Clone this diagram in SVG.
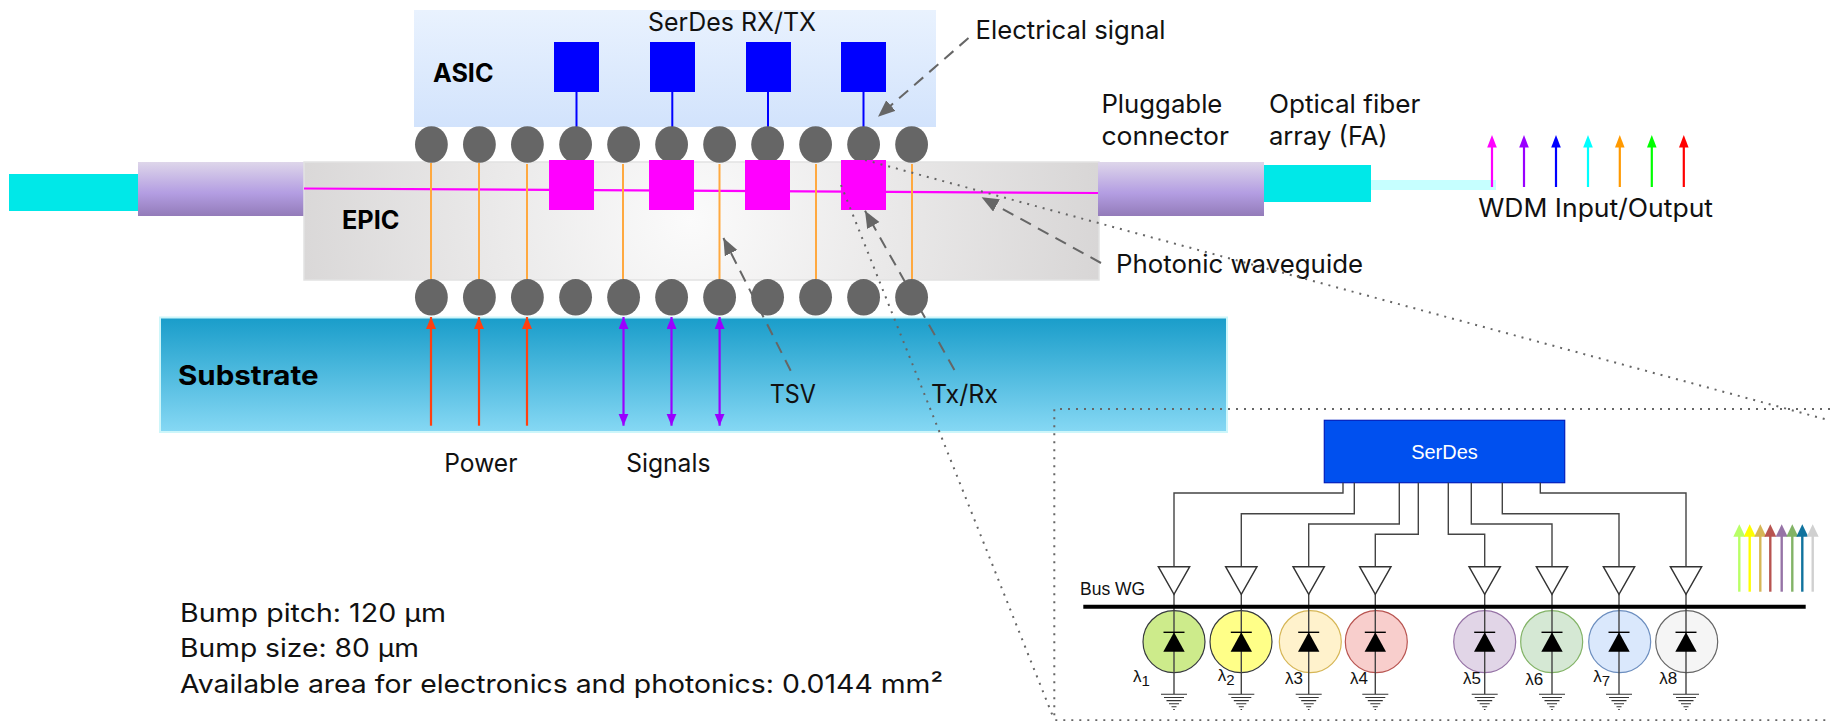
<svg xmlns="http://www.w3.org/2000/svg" xmlns:xlink="http://www.w3.org/1999/xlink" width="1830" height="721" viewBox="0 0 1830 721">
<style>
.t{font-family:"Inter","Liberation Sans",sans-serif;font-size:25.5px;fill:#111}
.b{font-family:"Inter","Liberation Sans",sans-serif;font-weight:700;fill:#000}
.h{font-family:"Liberation Sans",Arial,sans-serif;fill:#111}
.bump{fill:#666}
.tsv{stroke:#ffa940;stroke-width:2;fill:none}
.el{stroke:#0000ff;stroke-width:2;fill:none}
.sq{fill:#0000ff}
.mg{fill:#ff00ff}
.dash{stroke:#666;stroke-width:2;stroke-dasharray:12 8;fill:none;marker-end:url(#gh)}
.dot{stroke:#666;stroke-width:2;stroke-dasharray:2 6;fill:none}
.w{stroke:#444;stroke-width:1.4;fill:none}
.buf{fill:#fff;stroke:#333;stroke-width:1.4}
.lam{font-size:17px}
</style>
<defs>
<linearGradient id="asicG" x1="0" y1="0" x2="0" y2="1"><stop offset="0" stop-color="#e9f2fe"/><stop offset="1" stop-color="#d2e3fc"/></linearGradient>
<linearGradient id="connG" x1="0" y1="0" x2="0" y2="1"><stop offset="0" stop-color="#ded6ea"/><stop offset="0.58" stop-color="#b39de2"/><stop offset="1" stop-color="#937bb9"/></linearGradient>
<linearGradient id="subG" x1="0" y1="0" x2="0" y2="1"><stop offset="0" stop-color="#199dca"/><stop offset="1" stop-color="#86d8f4"/></linearGradient>
<radialGradient id="epicG" gradientUnits="userSpaceOnUse" cx="690" cy="220" r="410"><stop offset="0" stop-color="#fbfbfb"/><stop offset="1" stop-color="#d8d6d6"/></radialGradient>
<marker id="gh" markerUnits="userSpaceOnUse" markerWidth="20" markerHeight="16" refX="17" refY="7" orient="auto"><path d="M0 0L17 7L0 14Z" fill="#666"/></marker>
<marker id="pw" markerUnits="userSpaceOnUse" markerWidth="14" markerHeight="12" refX="12" refY="5" orient="auto"><path d="M0 0L12 5L0 10Z" fill="#ff4010"/></marker>
<marker id="sg" markerUnits="userSpaceOnUse" markerWidth="14" markerHeight="12" refX="12" refY="5" orient="auto-start-reverse"><path d="M0 0L12 5L0 10Z" fill="#9900ff"/></marker>
<g id="gnd" fill="none" stroke="#333" stroke-width="1.1"><path d="M-13 0H13M-10 3.2H10M-7.5 6.3H7.5M-5 9.4H5M-2.5 12.4H2.5M-.8 15.2H.8"/></g>
<g id="diode"><path d="M0-10.4L10.7 9H-10.7Z" fill="#000"/><path d="M-10.5-10.4H10.5" stroke="#000" stroke-width="1.4"/></g>
</defs>

<g id="left-fiber"><rect x="9" y="174" width="129" height="37" fill="#00e8e8"/></g>
<g id="left-connector"><rect x="138" y="162" width="166" height="54" fill="url(#connG)"/></g>
<g id="asic"><rect x="414" y="10" width="522" height="117" fill="url(#asicG)"/>
<text class="b" x="433" y="81.5" font-size="25" textLength="60.5" lengthAdjust="spacingAndGlyphs">ASIC</text>
<text class="t" x="648" y="31" textLength="168" lengthAdjust="spacingAndGlyphs">SerDes RX/TX</text></g>
<g id="epic"><rect x="304" y="162" width="795" height="118" fill="url(#epicG)" stroke="#e2e2e2" stroke-width="1.5"/>
<text class="b" x="342" y="228.5" font-size="25" textLength="57.5" lengthAdjust="spacingAndGlyphs">EPIC</text></g>
<g id="substrate"><rect x="160" y="317.5" width="1067" height="114.5" fill="url(#subG)" stroke="#cdf6fa" stroke-width="2"/>
<text class="b" x="178" y="385" font-size="27" textLength="140.5" lengthAdjust="spacingAndGlyphs">Substrate</text></g>
<g id="right-connector"><rect x="1098" y="162" width="166" height="54" fill="url(#connG)"/></g>
<g id="fiber-array"><rect x="1264" y="165" width="107" height="37" fill="#00e8e8"/><rect x="1371" y="180" width="125" height="10" fill="#c6ffff"/></g>

<g id="connectors">
<path d="M304 188.5L1098 193" stroke="#ff00ff" stroke-width="2.2" fill="none"/>
<path class="tsv" d="M431 163V279M479 163V279M527 164V279M623 164V279M719.5 164V279M816 164V279M912 164V279"/>
<path class="el" d="M576.5 92V160M672.3 92V160M768 92V160M863.5 92V160"/>
<path class="dash" d="M968.5 38L878 116.7"/>
<path class="dash" d="M790.7 370.7L723.4 238"/>
<path class="dash" d="M954.4 370L865 210.7"/>
<path class="dash" d="M1101 263L981.6 197.3"/>
</g>

<g id="top-bumps">
<ellipse class="bump" cx="431.4" cy="144.5" rx="16.4" ry="18.3"/><ellipse class="bump" cx="479.4" cy="144.5" rx="16.4" ry="18.3"/><ellipse class="bump" cx="527.4" cy="144.5" rx="16.4" ry="18.3"/><ellipse class="bump" cx="575.6" cy="144.5" rx="16.4" ry="18.3"/><ellipse class="bump" cx="623.6" cy="144.5" rx="16.4" ry="18.3"/><ellipse class="bump" cx="671.6" cy="144.5" rx="16.4" ry="18.3"/><ellipse class="bump" cx="719.6" cy="144.5" rx="16.4" ry="18.3"/><ellipse class="bump" cx="767.6" cy="144.5" rx="16.4" ry="18.3"/><ellipse class="bump" cx="815.6" cy="144.5" rx="16.4" ry="18.3"/><ellipse class="bump" cx="863.6" cy="144.5" rx="16.4" ry="18.3"/><ellipse class="bump" cx="911.6" cy="144.5" rx="16.4" ry="18.3"/>
</g>
<g id="bottom-bumps">
<ellipse class="bump" cx="431.4" cy="297.3" rx="16.4" ry="18.3"/><ellipse class="bump" cx="479.4" cy="297.3" rx="16.4" ry="18.3"/><ellipse class="bump" cx="527.4" cy="297.3" rx="16.4" ry="18.3"/><ellipse class="bump" cx="575.6" cy="297.3" rx="16.4" ry="18.3"/><ellipse class="bump" cx="623.6" cy="297.3" rx="16.4" ry="18.3"/><ellipse class="bump" cx="671.6" cy="297.3" rx="16.4" ry="18.3"/><ellipse class="bump" cx="719.6" cy="297.3" rx="16.4" ry="18.3"/><ellipse class="bump" cx="767.6" cy="297.3" rx="16.4" ry="18.3"/><ellipse class="bump" cx="815.6" cy="297.3" rx="16.4" ry="18.3"/><ellipse class="bump" cx="863.6" cy="297.3" rx="16.4" ry="18.3"/><ellipse class="bump" cx="911.6" cy="297.3" rx="16.4" ry="18.3"/>
</g>
<g id="serdes-pads"><rect class="sq" x="554" y="42" width="45" height="50"/><rect class="sq" x="650" y="42" width="45" height="50"/><rect class="sq" x="746" y="42" width="45" height="50"/><rect class="sq" x="841" y="42" width="45" height="50"/></g>
<g id="txrx-pads"><rect class="mg" x="549" y="160" width="45" height="50"/><rect class="mg" x="649" y="160" width="45" height="50"/><rect class="mg" x="745" y="160" width="45" height="50"/><rect class="mg" x="841" y="160" width="45" height="50"/></g>

<g id="power-arrows" stroke="#ff4010" stroke-width="2.2" fill="none"><path d="M431 425.7V317" marker-end="url(#pw)"/><path d="M479 425.7V317" marker-end="url(#pw)"/><path d="M527 425.7V317" marker-end="url(#pw)"/></g>
<g id="signal-arrows" stroke="#9900ff" stroke-width="2.2" fill="none"><path d="M623.5 425.7V317" marker-start="url(#sg)" marker-end="url(#sg)"/><path d="M671.5 425.7V317" marker-start="url(#sg)" marker-end="url(#sg)"/><path d="M719.6 425.7V317" marker-start="url(#sg)" marker-end="url(#sg)"/></g>

<g id="wdm-arrows" stroke-width="2.2">
<g stroke="#ff00ff" fill="#ff00ff"><path d="M1492 187V145"/><path stroke="none" d="M1492 135l4.8 12.5h-9.6Z"/></g>
<g stroke="#9900ff" fill="#9900ff"><path d="M1524 187V145"/><path stroke="none" d="M1524 135l4.8 12.5h-9.6Z"/></g>
<g stroke="#0000ff" fill="#0000ff"><path d="M1556 187V145"/><path stroke="none" d="M1556 135l4.8 12.5h-9.6Z"/></g>
<g stroke="#00ffff" fill="#00ffff"><path d="M1588 187V145"/><path stroke="none" d="M1588 135l4.8 12.5h-9.6Z"/></g>
<g stroke="#ff9900" fill="#ff9900"><path d="M1619.8 187V145"/><path stroke="none" d="M1619.8 135l4.8 12.5h-9.6Z"/></g>
<g stroke="#00ff00" fill="#00ff00"><path d="M1651.8 187V145"/><path stroke="none" d="M1651.8 135l4.8 12.5h-9.6Z"/></g>
<g stroke="#ff0000" fill="#ff0000"><path d="M1683.8 187V145"/><path stroke="none" d="M1683.8 135l4.8 12.5h-9.6Z"/></g>
</g>

<g id="labels">
<text class="t" x="975.6" y="38.5" textLength="190" lengthAdjust="spacingAndGlyphs">Electrical signal</text>
<text class="t" x="1101.4" y="112.7" textLength="121" lengthAdjust="spacingAndGlyphs">Pluggable</text>
<text class="t" x="1101.4" y="144.5" textLength="127.5" lengthAdjust="spacingAndGlyphs">connector</text>
<text class="t" x="1268.9" y="112.7" textLength="151.5" lengthAdjust="spacingAndGlyphs">Optical fiber</text>
<text class="t" x="1268.9" y="145" textLength="118.8" lengthAdjust="spacingAndGlyphs">array (FA)</text>
<text class="t" x="1478.2" y="216.7" textLength="234.8" lengthAdjust="spacingAndGlyphs">WDM Input/Output</text>
<text class="t" x="1116" y="273.3" textLength="247" lengthAdjust="spacingAndGlyphs">Photonic waveguide</text>
<text class="t" x="769.7" y="403.3" textLength="46.3" lengthAdjust="spacingAndGlyphs">TSV</text>
<text class="t" x="931" y="403.3" textLength="67" lengthAdjust="spacingAndGlyphs">Tx/Rx</text>
<text class="t" x="444.3" y="471.7" textLength="73.1" lengthAdjust="spacingAndGlyphs">Power</text>
<text class="t" x="626.2" y="471.7" textLength="84.2" lengthAdjust="spacingAndGlyphs">Signals</text>
<text class="t" x="180" y="621.7" textLength="266" lengthAdjust="spacingAndGlyphs">Bump pitch: 120 µm</text>
<text class="t" x="180" y="657.3" textLength="239" lengthAdjust="spacingAndGlyphs">Bump size: 80 µm</text>
<text class="t" x="180" y="692.7" textLength="763" lengthAdjust="spacingAndGlyphs">Available area for electronics and photonics: 0.0144 mm²</text>
</g>

<g id="serdes"><rect x="1324.3" y="420.3" width="240.4" height="62.4" fill="#0050ef" stroke="#001dbc" stroke-width="1.2"/>
<text x="1444.5" y="459" font-family="Liberation Sans,Arial,sans-serif" font-size="20" fill="#fff" text-anchor="middle">SerDes</text></g>

<g id="wires" class="w">
<path d="M1343 482.7V493H1174V566.7"/><path d="M1354.3 482.7V513.7H1241.3V566.7"/><path d="M1399.3 482.7V524H1308.7V566.7"/><path d="M1418.3 482.7V534.3H1375.3V566.7"/><path d="M1448.3 482.7V534.3H1484.7V566.7"/><path d="M1471.3 482.7V524H1552V566.7"/><path d="M1502.3 482.7V513.7H1619V566.7"/><path d="M1540.3 482.7V493H1686V566.7"/>
</g>

<g id="bus-label"><text class="h" x="1080" y="594.7" font-size="17.5">Bus WG</text></g>

<g id="ch1"><circle cx="1174" cy="641.7" r="31" fill="#cdeb8b" stroke="#36393d" stroke-width="1.2"/><path class="w" d="M1174 594V694"/><polygon class="buf" points="1158.3,566.7 1189.7,566.7 1174,594.3"/><use href="#diode" x="1174" y="642.7"/><use href="#gnd" x="1174" y="694.3"/><text class="h lam" x="1133" y="681.7">λ<tspan font-size="15" dy="4">1</tspan></text></g>
<g id="ch2"><circle cx="1241" cy="641.7" r="31" fill="#ffff88" stroke="#36393d" stroke-width="1.2"/><path class="w" d="M1241.3 594V694"/><polygon class="buf" points="1225.6,566.7 1257,566.7 1241.3,594.3"/><use href="#diode" x="1241.3" y="642.7"/><use href="#gnd" x="1241.3" y="694.3"/><text class="h lam" x="1217.7" y="681">λ<tspan font-size="15" dy="4">2</tspan></text></g>
<g id="ch3"><circle cx="1310.3" cy="641.7" r="31" fill="#fff2cc" stroke="#d6b656" stroke-width="1.2"/><path class="w" d="M1308.7 594V694"/><polygon class="buf" points="1293,566.7 1324.4,566.7 1308.7,594.3"/><use href="#diode" x="1308.7" y="642.7"/><use href="#gnd" x="1308.7" y="694.3"/><text class="h lam" x="1285" y="683.7">λ3</text></g>
<g id="ch4"><circle cx="1376.3" cy="641.7" r="31" fill="#f8cecc" stroke="#b85450" stroke-width="1.2"/><path class="w" d="M1375.3 594V694"/><polygon class="buf" points="1359.6,566.7 1391,566.7 1375.3,594.3"/><use href="#diode" x="1375.3" y="642.7"/><use href="#gnd" x="1375.3" y="694.3"/><text class="h lam" x="1350" y="683.7">λ4</text></g>
<g id="ch5"><circle cx="1484.7" cy="641.7" r="31" fill="#e1d5e7" stroke="#9673a6" stroke-width="1.2"/><path class="w" d="M1484.7 594V694"/><polygon class="buf" points="1469,566.7 1500.4,566.7 1484.7,594.3"/><use href="#diode" x="1484.7" y="642.7"/><use href="#gnd" x="1484.7" y="694.3"/><text class="h lam" x="1463" y="683.7">λ5</text></g>
<g id="ch6"><circle cx="1551.7" cy="641.7" r="31" fill="#d5e8d4" stroke="#82b366" stroke-width="1.2"/><path class="w" d="M1552 594V694"/><polygon class="buf" points="1536.3,566.7 1567.7,566.7 1552,594.3"/><use href="#diode" x="1552" y="642.7"/><use href="#gnd" x="1552" y="694.3"/><text class="h lam" x="1525.3" y="685">λ6</text></g>
<g id="ch7"><circle cx="1619.7" cy="641.7" r="31" fill="#dae8fc" stroke="#6c8ebf" stroke-width="1.2"/><path class="w" d="M1619 594V694"/><polygon class="buf" points="1603.3,566.7 1634.7,566.7 1619,594.3"/><use href="#diode" x="1619" y="642.7"/><use href="#gnd" x="1619" y="694.3"/><text class="h lam" x="1593.3" y="681.7">λ<tspan font-size="15" dy="4">7</tspan></text></g>
<g id="ch8"><circle cx="1686.7" cy="641.7" r="31" fill="#f5f5f5" stroke="#666666" stroke-width="1.2"/><path class="w" d="M1686 594V694"/><polygon class="buf" points="1670.3,566.7 1701.7,566.7 1686,594.3"/><use href="#diode" x="1686" y="642.7"/><use href="#gnd" x="1686" y="694.3"/><text class="h lam" x="1659.3" y="683.7">λ8</text></g>

<g id="bus"><path d="M1083.3 606.7H1805.7" stroke="#000" stroke-width="4"/></g>

<g id="rainbow-arrows" stroke-width="2.4">
<g stroke="#b9ff66" fill="#b9ff66"><path d="M1739.3 591.7V534"/><path stroke="none" d="M1739.3 524.3l6 12.5h-12Z"/></g>
<g stroke="#ffff00" fill="#ffff00"><path d="M1749.7 591.7V534"/><path stroke="none" d="M1749.7 524.3l6 12.5h-12Z"/></g>
<g stroke="#d6b656" fill="#d6b656"><path d="M1760.3 591.7V534"/><path stroke="none" d="M1760.3 524.3l6 12.5h-12Z"/></g>
<g stroke="#b85450" fill="#b85450"><path d="M1770.3 591.7V534"/><path stroke="none" d="M1770.3 524.3l6 12.5h-12Z"/></g>
<g stroke="#9673a6" fill="#9673a6"><path d="M1781.7 591.7V534"/><path stroke="none" d="M1781.7 524.3l6 12.5h-12Z"/></g>
<g stroke="#82b366" fill="#82b366"><path d="M1792.3 591.7V534"/><path stroke="none" d="M1792.3 524.3l6 12.5h-12Z"/></g>
<g stroke="#10739e" fill="#10739e"><path d="M1802.3 591.7V534"/><path stroke="none" d="M1802.3 524.3l6 12.5h-12Z"/></g>
<g stroke="#d0d0d0" fill="#d0d0d0"><path d="M1812.7 591.7V534"/><path stroke="none" d="M1812.7 524.3l6 12.5h-12Z"/></g>
</g>

<g id="zoom-callout">
<path class="dot" d="M1830 409H1054.3V720.3H1830"/>
<path class="dot" d="M865 160L1830 420.5"/>
<path class="dot" d="M841 185L1054.3 720"/>
</g>
</svg>
